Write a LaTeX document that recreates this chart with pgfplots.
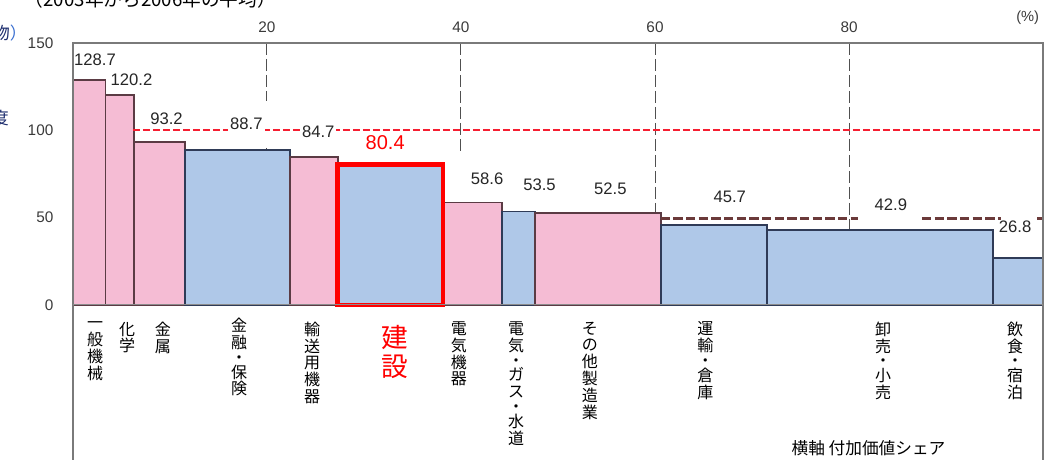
\documentclass[border=0pt]{standalone}
\usepackage{fontspec}
\setmainfont{Liberation Sans}
\newfontfamily\jp{Noto Sans CJK JP}
\usepackage{pgfplots}
\pgfplotsset{compat=1.18}

\definecolor{pinkfill}{HTML}{F5BCD4}
\definecolor{bluefill}{HTML}{AFC8E8}
\definecolor{pinkedge}{HTML}{5B3B44}
\definecolor{blueedge}{HTML}{2F3B57}
\definecolor{avgred}{HTML}{F51E30}
\definecolor{avgdark}{HTML}{6B3A3A}
\definecolor{navy}{HTML}{1F2F6F}
\definecolor{ltblue}{HTML}{3A6FD0}
\definecolor{framegray}{HTML}{7A7A7A}
\definecolor{ticktext}{HTML}{3A3A3A}
\definecolor{gridc}{HTML}{505050}

\tikzset{
  val/.style={font=\fontsize{12.5}{14}\selectfont, text=black!85, inner sep=1.5pt},
  cat/.style={font=\jp\fontsize{12}{12.6}\selectfont, align=center, anchor=north, inner sep=0pt},
}

\begin{document}
\begin{tikzpicture}
\begin{axis}[
  x=7.279pt, y=1.310pt,
  xmin=0, xmax=100, ymin=-88.7, ymax=150,
  axis line style={draw=none},
  tick style={draw=none},
  xtick={20,40,60,80}, ytick={0,50,100,150},
  xticklabel pos=right,
  ticklabel style={font=\fontsize{11.5}{13}\selectfont, text=ticktext},
  xticklabel style={yshift=4.5pt},
  yticklabel style={xshift=-11pt},
  /pgf/number format/assume math mode=true,
  clip=false,
]
% dashed vertical guide lines
\addplot[gridc, line width=0.7pt, dash pattern=on 9pt off 3pt] coordinates {(20,150) (20,117)};
\addplot[gridc, line width=0.7pt, dash pattern=on 9pt off 3pt] coordinates {(20,90) (20,88.7)};
\addplot[gridc, line width=0.7pt, dash pattern=on 9pt off 3pt] coordinates {(40,150) (40,86)};
\addplot[gridc, line width=0.7pt, dash pattern=on 9pt off 3pt] coordinates {(60,150) (60,52.5)};
\addplot[gridc, line width=0.7pt, dash pattern=on 9pt off 3pt] coordinates {(80,150) (80,42.9)};

% bars: value-added share (x) vs productivity (y)
\addplot[fill=pinkfill, draw=pinkedge, line width=1.2pt] coordinates {(0,0) (0,128.7) (3.40,128.7) (3.40,0)} -- cycle;
\addplot[fill=pinkfill, draw=pinkedge, line width=1.2pt] coordinates {(3.40,0) (3.40,120.2) (6.32,120.2) (6.32,0)} -- cycle;
\addplot[fill=pinkfill, draw=pinkedge, line width=1.2pt] coordinates {(6.32,0) (6.32,93.2) (11.57,93.2) (11.57,0)} -- cycle;
\addplot[fill=bluefill, draw=blueedge, line width=1.2pt] coordinates {(11.57,0) (11.57,88.7) (22.39,88.7) (22.39,0)} -- cycle;
\addplot[fill=pinkfill, draw=pinkedge, line width=1.2pt] coordinates {(22.39,0) (22.39,84.7) (27.31,84.7) (27.31,0)} -- cycle;
\addplot[fill=bluefill, draw=blueedge, line width=1.2pt] coordinates {(27.31,0) (27.31,80.4) (38.16,80.4) (38.16,0)} -- cycle;
\addplot[fill=pinkfill, draw=pinkedge, line width=1.2pt] coordinates {(38.16,0) (38.16,58.6) (44.21,58.6) (44.21,0)} -- cycle;
\addplot[fill=bluefill, draw=blueedge, line width=1.2pt] coordinates {(44.21,0) (44.21,53.5) (47.64,53.5) (47.64,0)} -- cycle;
\addplot[fill=pinkfill, draw=pinkedge, line width=1.2pt] coordinates {(47.64,0) (47.64,52.5) (60.59,52.5) (60.59,0)} -- cycle;
\addplot[fill=bluefill, draw=blueedge, line width=1.2pt] coordinates {(60.59,0) (60.59,45.7) (71.51,45.7) (71.51,0)} -- cycle;
\addplot[fill=bluefill, draw=blueedge, line width=1.2pt] coordinates {(71.51,0) (71.51,42.9) (94.80,42.9) (94.80,0)} -- cycle;
\addplot[fill=bluefill, draw=blueedge, line width=1.2pt] coordinates {(94.80,0) (94.80,26.8) (100,26.8) (100,0)} -- cycle;
% highlighted construction bar
\addplot[draw=red, line width=3.6pt] coordinates {(27.31,0) (27.31,80.4) (38.16,80.4) (38.16,0)} -- cycle;

% average lines
\addplot[avgred, line width=1.6pt, dash pattern=on 5.5pt off 2pt] coordinates {(6.2,100) (100,100)};
\addplot[avgdark, line width=2.3pt, dash pattern=on 7pt off 2.5pt] coordinates {(60.59,49.7) (80.9,49.7)};
\addplot[avgdark, line width=2.3pt, dash pattern=on 7pt off 2.5pt] coordinates {(87.5,49.7) (95.6,49.7)};
\addplot[avgdark, line width=2.3pt] coordinates {(99.4,49.7) (100,49.7)};

% frame
\draw[framegray, line width=1.3pt] (axis cs:0,-88.7) -- (axis cs:0,150) -- (axis cs:100,150) -- (axis cs:100,-88.7);
\draw[black!45, line width=0.8pt] (axis cs:0,0) -- (axis cs:100,0);

% value labels
\node[val] at (axis cs:2.3,140.2) {128.7};
\node[val] at (axis cs:6.06,128.8) {120.2};
\node[val] at (axis cs:9.67,106.5) {93.2};
\node[val, fill=white] at (axis cs:17.9,103.6) {88.7};
\node[val, fill=white] at (axis cs:25.3,99.0) {84.7};
\node[val, fill=white, text=red, font=\fontsize{15}{17}\selectfont] at (axis cs:32.2,92.7) {80.4};
\node[val] at (axis cs:42.7,72.4) {58.6};
\node[val] at (axis cs:48.1,69.0) {53.5};
\node[val] at (axis cs:55.4,66.7) {52.5};
\node[val] at (axis cs:67.7,61.8) {45.7};
\node[val] at (axis cs:84.3,57.2) {42.9};
\node[val] at (axis cs:97.1,44.6) {26.8};

% category labels (vertical)
\node[cat] at (axis cs:2.30,-9.5) {一\\般\\機\\械};
\node[cat] at (axis cs:5.61,-9.5) {化\\学};
\node[cat] at (axis cs:9.30,-9.5) {金\\属};
\node[cat] at (axis cs:17.14,-7.5) {金\\融\\[-1.5pt]・\\[-1.5pt]保\\険};
\node[cat] at (axis cs:24.66,-9.5) {輸\\送\\用\\機\\器};
\node[cat, text=red, font=\jp\fontsize{20}{21.5}\selectfont] at (axis cs:33.21,-11.5) {建\\設};
\node[cat] at (axis cs:39.80,-9.5) {電\\気\\機\\器};
\node[cat] at (axis cs:45.68,-9.5) {電\\気\\[-1.5pt]・\\[-1.5pt]ガ\\ス\\[-1.5pt]・\\[-1.5pt]水\\道};
\node[cat] at (axis cs:53.30,-9.5) {そ\\の\\他\\製\\造\\業};
\node[cat] at (axis cs:65.20,-9.5) {運\\輸\\[-1.5pt]・\\[-1.5pt]倉\\庫};
\node[cat] at (axis cs:83.50,-9.5) {卸\\売\\[-1.5pt]・\\[-1.5pt]小\\売};
\node[cat] at (axis cs:97.10,-9.5) {飲\\食\\[-1.5pt]・\\[-1.5pt]宿\\泊};

% axis texts
\node[font=\jp\fontsize{12.5}{14}\selectfont] at (axis cs:82.0,-81.9) {横軸\ 付加価値シェア};
\node[font=\fontsize{11}{13}\selectfont, text=ticktext] at (axis cs:98.4,164.3) {(\%)};
\node[font=\jp\fontsize{14}{16}\selectfont] at (axis cs:8.0,175.2) {（2003年から2006年の平均）};
\node[font=\jp\fontsize{12.75}{14}\selectfont, anchor=east, inner sep=0pt] at (axis cs:-4.7,155.4) {\textcolor{navy}{物}\textcolor{ltblue}{）}};
\node[font=\jp\fontsize{12.75}{14}\selectfont, anchor=east, inner sep=0pt, text=navy] at (axis cs:-6.56,106.8) {度};

\coordinate (BL) at (axis cs:-7.49,-88.7);
\coordinate (TR) at (axis cs:100.70,174.6);
\end{axis}
\pgfresetboundingbox
\path[use as bounding box] (BL) rectangle (TR);
\end{tikzpicture}
\end{document}
